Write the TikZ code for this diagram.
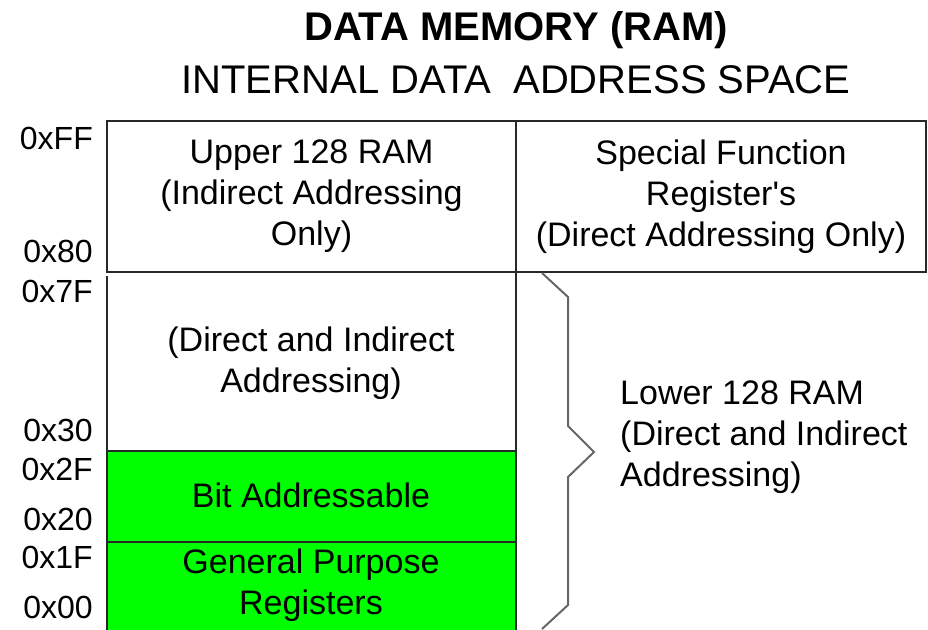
\documentclass[tikz,border=0pt]{standalone}
\usepackage{fontspec}
\setmainfont{Liberation Sans}
\usetikzlibrary{positioning}

\definecolor{regsgreen}{RGB}{0,255,0}
\definecolor{edgegray}{RGB}{40,40,40}

\begin{document}
\begin{tikzpicture}[x=1pt,y=-1pt,
  box/.style={draw=edgegray,line width=2pt,minimum height=151pt,inner sep=0pt,
    align=center,font=\fontsize{34}{41}\selectfont},
  txt/.style={align=center,inner sep=0pt,font=\fontsize{34}{41}\selectfont},
  addr/.style={anchor=east,inner sep=0pt,font=\fontsize{32}{38}\selectfont}]
  \useasboundingbox (0,0) rectangle (928,629);

  % titles
  \node[font=\bfseries\fontsize{40}{48}\selectfont] (title) at (516,30) {DATA MEMORY (RAM)};
  \node[font=\fontsize{40}{48}\selectfont] (space) at (516,80) {INTERNAL DATA\ \ ADDRESS SPACE};

  % upper 128 and SFRs
  \node[box,minimum width=409pt] (upper) at (311.5,196.5)
    {Upper 128 RAM\\(Indirect Addressing\\Only)};
  \node[box,minimum width=410pt] (sfr) at (721,196.5)
    {Special Function\\Register\textquotesingle s\\(Direct Addressing Only)};

  % lower 128
  \fill[regsgreen] (107,451) rectangle (516,635);
  \draw[edgegray,line width=2pt] (107,635) -- (107,276);
  \draw[edgegray,line width=2pt] (516,272) -- (516,635);
  \draw[edgegray,line width=2pt] (107,451) -- (516,451);
  \draw[edgegray,line width=2pt] (107,542) -- (516,542);

  \node[txt] (direct) at (311,363) {(Direct and Indirect\\Addressing)};
  \node[txt] (bits) at (311,495) {Bit Addressable};
  \node[txt] (gpr) at (311,585) {General Purpose\\Registers};

  % brace
  \coordinate (btop) at (542,273);
  \coordinate (bbot) at (542,629);
  \draw[black!60,line width=2pt,line join=miter] (btop) -- (568,297) -- (568,426)
    -- (594,452) coordinate (tip) -- (568,477) -- (568,605) -- (bbot);
  \node[txt,align=left,anchor=west] (lower) at (620,437)
    {Lower 128 RAM\\(Direct and Indirect\\Addressing)};

  % addresses
  \node[addr] (aFF) at (93,138) {0xFF};
  \node[addr] (a80) at (93,251) {0x80};
  \node[addr] (a7F) at (93,291) {0x7F};
  \node[addr] (a30) at (93,430) {0x30};
  \node[addr] (a2F) at (93,469) {0x2F};
  \node[addr] (a20) at (93,519) {0x20};
  \node[addr] (a1F) at (93,557) {0x1F};
  \node[addr] (a00) at (93,607) {0x00};
\end{tikzpicture}
\end{document}
